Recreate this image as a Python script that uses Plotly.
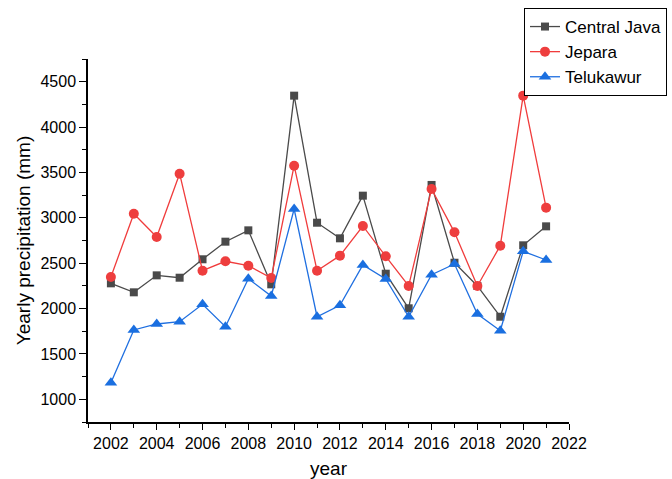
import plotly.graph_objects as go

years = list(range(2002, 2022))
central_java = [2278, 2179, 2366, 2340, 2543, 2737, 2862, 2267, 4346, 2946,
                2774, 3244, 2384, 2003, 3362, 2505, 2249, 1910, 2697, 2906]
jepara = [2348, 3045, 2789, 3486, 2417, 2521, 2472, 2337, 3574, 2417,
          2583, 2910, 2576, 2249, 3318, 2840, 2249, 2693, 4346, 3112]
telukawur = [1183, 1764, 1830, 1855, 2047, 1800, 2329, 2138, 3097, 1910,
             2036, 2480, 2326, 1910, 2373, 2491, 1940, 1756, 2631, 2535]
x_ticks = list(range(2002, 2023, 2))
y_ticks = [1000, 1500, 2000, 2500, 3000, 3500, 4000, 4500]

FONT = "Arial, Liberation Sans, sans-serif"

fig = go.Figure()
fig.add_trace(go.Scatter(x=years, y=central_java, name="Central Java", mode="lines+markers",
                         line=dict(color="#4a4a4a", width=1.3),
                         marker=dict(symbol="square", size=8, color="#4a4a4a")))
fig.add_trace(go.Scatter(x=years, y=jepara, name="Jepara", mode="lines+markers",
                         line=dict(color="#f03c3c", width=1.3),
                         marker=dict(symbol="circle", size=10, color="#ee3e3e")))
fig.add_trace(go.Scatter(x=years, y=telukawur, name="Telukawur", mode="lines+markers",
                         line=dict(color="#1f6fe0", width=1.3),
                         marker=dict(symbol="triangle-up", size=11, color="#1a6fe0")))

fig.update_layout(
    width=672, height=479,
    margin=dict(l=88, r=103, t=59, b=57, autoexpand=False),
    paper_bgcolor="white", plot_bgcolor="white",
    font=dict(family=FONT, color="black"),
    showlegend=True,
    legend=dict(xref="container", yref="container", x=667/672, xanchor="right",
                y=1 - 8/479, yanchor="top", bordercolor="black", borderwidth=1,
                bgcolor="white", font=dict(size=17, family=FONT), tracegroupgap=0,
                itemwidth=30),
    xaxis=dict(range=[2001, 2022], tickvals=x_ticks, ticktext=[str(v) for v in x_ticks],
               showgrid=False, zeroline=False, showline=True, linecolor="black", linewidth=1.5,
               ticks="outside", ticklen=6, tickwidth=1.3, tickcolor="black",
               minor=dict(dtick=1, tick0=2001, ticks="outside", ticklen=4, tickwidth=1.3,
                          tickcolor="black", showgrid=False),
               tickfont=dict(size=16, family=FONT),
               title=dict(text="year", font=dict(size=19, family=FONT), standoff=12)),
    yaxis=dict(range=[750, 4750], tickvals=y_ticks, ticktext=[str(v) for v in y_ticks],
               showgrid=False, zeroline=False, showline=True, linecolor="black", linewidth=1.5,
               ticks="outside", ticklen=7, tickwidth=1.3, tickcolor="black",
               minor=dict(dtick=250, tick0=750, ticks="outside", ticklen=4, tickwidth=1.3,
                          tickcolor="black", showgrid=False),
               tickfont=dict(size=16, family=FONT),
               title=dict(text="Yearly precipitation (mm)", font=dict(size=19, family=FONT),
                          standoff=5)),
)

fig.write_html("out.html", config={"displayModeBar": False},
               post_script="document.body.style.margin='0';document.body.style.padding='0';")
